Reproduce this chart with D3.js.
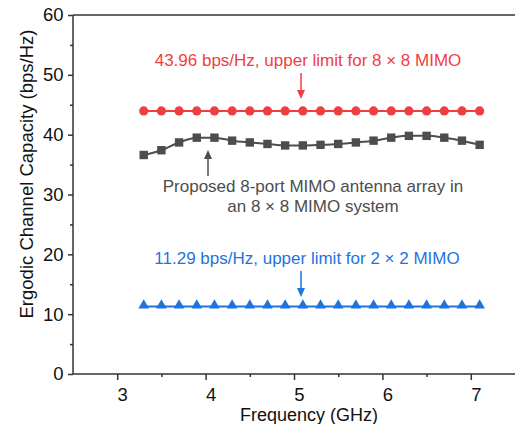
<!DOCTYPE html>
<html><head><meta charset="utf-8">
<script src="https://cdn.jsdelivr.net/npm/d3@7"></script>
<style>body{margin:0;background:#fff}svg{display:block;font-family:"Liberation Sans",Arial,sans-serif}</style>
</head><body><svg id="c" width="515" height="424"></svg>
<script>
const freq = [3.3,3.5,3.7,3.9,4.1,4.3,4.5,4.7,4.9,5.1,5.3,5.5,5.7,5.9,6.1,6.3,6.5,6.7,6.9,7.1];
const upper8 = freq.map(() => 43.96);
const proposed = [36.6,37.4,38.7,39.5,39.5,39.0,38.7,38.45,38.2,38.2,38.3,38.45,38.7,39.0,39.5,39.8,39.8,39.5,39.0,38.3];
const upper2 = freq.map(() => 11.29);
const xTicks = [3,4,5,6,7];
const yTicks = [0,10,20,30,40,50,60];

const svg = d3.select("#c");
const L = 73, R = 515, T = 15, B = 374;
const x = d3.scaleLinear().domain([2.5,7.5]).range([L,R]);
const y = d3.scaleLinear().domain([0,60]).range([B,T]);
const axisCol = "#333";
const tickFont = "18.5px";

svg.append("line").attr("x1",L).attr("x2",R).attr("y1",T).attr("y2",T).attr("stroke",axisCol).attr("stroke-width",1.5);

const gx = svg.append("g").attr("transform",`translate(0,${B})`)
  .call(d3.axisBottom(x).tickValues(xTicks).tickSize(6).tickFormat(d3.format("d")));
const gxm = svg.append("g").attr("transform",`translate(0,${B})`)
  .call(d3.axisBottom(x).tickValues([3.5,4.5,5.5,6.5]).tickSize(3).tickFormat(""));
const gy = svg.append("g").attr("transform",`translate(${L},0)`)
  .call(d3.axisLeft(y).tickValues(yTicks).tickSize(5).tickPadding(4.5));
const gym = svg.append("g").attr("transform",`translate(${L},0)`)
  .call(d3.axisLeft(y).tickValues([5,15,25,35,45,55]).tickSize(3).tickFormat(""));
[gx,gxm,gy,gym].forEach(g=>{
  g.selectAll("path,line").attr("stroke",axisCol).attr("stroke-width",1.5);
  g.selectAll("text").attr("fill","#111").style("font-size",tickFont).style("font-family","'Liberation Sans',Arial,sans-serif");
});
gx.selectAll("text").attr("y",26.5).attr("dy",0).attr("dx",5);
gxm.select("path").remove(); gym.select("path").remove();
gx.select(".domain").attr("d",`M${L},0H${R}`);
gy.select(".domain").attr("d",`M0,${B}V${T}`);

svg.append("text").attr("x",309).attr("y",420.5).attr("text-anchor","middle")
  .style("font-size","18px").attr("fill","#111").text("Frequency (GHz)");
svg.append("text").attr("transform",`translate(33,174) rotate(-90)`).attr("text-anchor","middle")
  .style("font-size","18.5px").attr("fill","#111").text("Ergodic Channel Capacity (bps/Hz)");

const red = "#ef3e42", grey = "#4d4d4d", blue = "#1f73dc";
const line = d3.line().x((d,i)=>x(freq[i])).y(d=>y(d));

svg.append("path").datum(upper8).attr("d",line).attr("fill","none").attr("stroke",red).attr("stroke-width",2);
svg.append("g").selectAll("circle").data(upper8).join("circle")
  .attr("cx",(d,i)=>x(freq[i])).attr("cy",d=>y(d)).attr("r",4.6).attr("fill",red);

const lineC = d3.line().x((d,i)=>x(freq[i])).y(d=>y(d)).curve(d3.curveMonotoneX);
svg.append("path").datum(proposed).attr("d",lineC).attr("fill","none").attr("stroke",grey).attr("stroke-width",2);
svg.append("g").selectAll("rect").data(proposed).join("rect")
  .attr("x",(d,i)=>x(freq[i])-4.2).attr("y",d=>y(d)-4.2).attr("width",8.4).attr("height",8.4).attr("fill",grey);

svg.append("path").datum(upper2).attr("d",line).attr("fill","none").attr("stroke",blue).attr("stroke-width",2);
const tri = d3.symbol().type(d3.symbolTriangle).size(50);
svg.append("g").selectAll("path").data(upper2).join("path")
  .attr("transform",(d,i)=>`translate(${x(freq[i])},${y(d)-1})`).attr("d",tri).attr("fill",blue);

function arrow(x0,y0,y1,col){
  const dir = y1>y0?1:-1;
  svg.append("line").attr("x1",x0).attr("x2",x0).attr("y1",y0).attr("y2",y1-dir*6).attr("stroke",col).attr("stroke-width",1.5);
  svg.append("path").attr("d",`M${x0-4},${y1-dir*9}L${x0+4},${y1-dir*9}L${x0},${y1}Z`).attr("fill",col);
}
const annFont = "17px";
svg.append("text").attr("x",308).attr("y",66).attr("text-anchor","middle").style("font-size",annFont).attr("fill",red)
  .text("43.96 bps/Hz, upper limit for 8 × 8 MIMO");
arrow(301,73,99,red);

svg.append("text").attr("x",313).attr("y",192).attr("text-anchor","middle").style("font-size",annFont).attr("fill",grey)
  .text("Proposed 8-port MIMO antenna array in");
svg.append("text").attr("x",313).attr("y",212).attr("text-anchor","middle").style("font-size",annFont).attr("fill",grey)
  .text("an 8 × 8 MIMO system");
arrow(208,176,150,grey);

svg.append("text").attr("x",307).attr("y",264).attr("text-anchor","middle").style("font-size",annFont).attr("fill",blue)
  .text("11.29 bps/Hz, upper limit for 2 × 2 MIMO");
arrow(301,271,297,blue);
</script></body></html>
